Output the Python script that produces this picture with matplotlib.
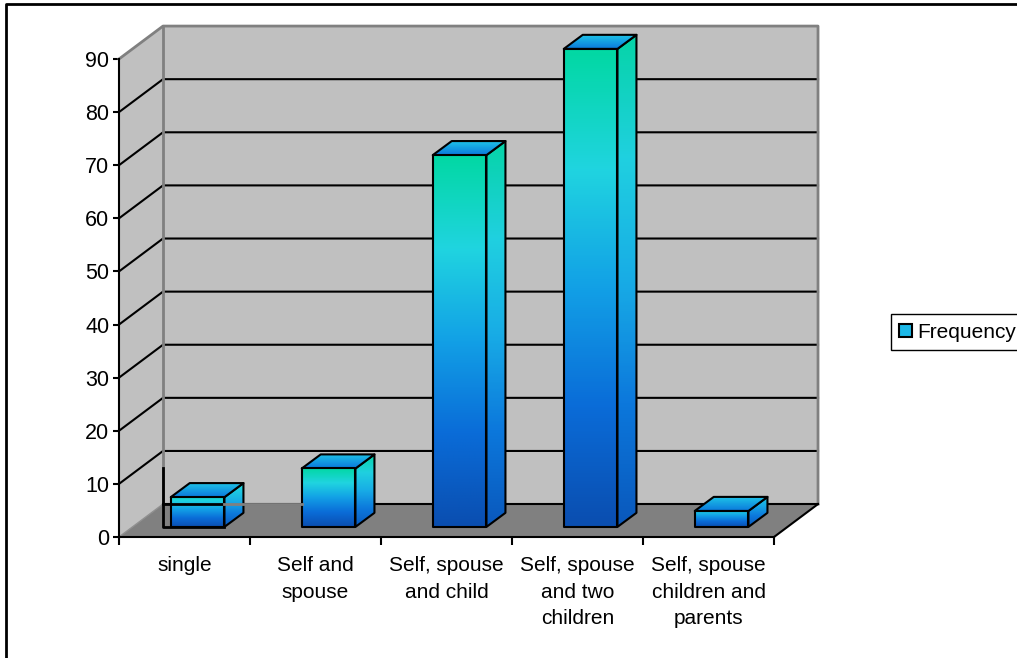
import numpy as np
from matplotlib import pyplot as plt
from matplotlib.colors import LinearSegmentedColormap
from matplotlib.lines import Line2D
from matplotlib.patches import Polygon, Patch

plt.rcParams['font.family'] = ['Liberation Sans', 'DejaVu Sans']

# data
categories = ['single', 'Self and\nspouse', 'Self, spouse\nand child',
              'Self, spouse\nand two\nchildren', 'Self, spouse\nchildren and\nparents']
frequency = [5.6, 11, 70, 90, 3]
y_ticks = [0, 10, 20, 30, 40, 50, 60, 70, 80, 90]

# how far up the colour ramp each bar goes, short bars stop before the green
ramp_top = [0.85, 1, 1, 1, 0.7]

# depth of the fake 3d box, in data units
DX, DY = 0.336, 6.2
BAR_DX, BAR_DY = 0.145, 2.65
BAR_SHIFT_X, BAR_SHIFT_Y = 0.1, 1.9
BAR_W = 0.41

front_cmap = LinearSegmentedColormap.from_list('front', ['#0A4EB0', '#0A6CD8', '#12A0E6', '#20D4E0', '#02D8A4'])
side_cmap = LinearSegmentedColormap.from_list('side', ['#0A58BC', '#0C78DC', '#18ACE6', '#20D0E0', '#06D4A8'])
top_cmap = LinearSegmentedColormap.from_list('top', ['#0A78DC', '#20C8E8'])

fig = plt.figure(figsize=(10.17, 6.58), dpi=100)
ax = fig.add_axes([119/1017, 121/658, 655/1017, 478/658])
ax.set_xlim(0, 5)
ax.set_ylim(0, 90)
n = len(categories)

# walls and floor
side = Polygon([(0, 0), (DX, DY), (DX, 90+DY), (0, 90)], fc='#C0C0C0', ec='none', clip_on=False, zorder=1)
back = Polygon([(DX, DY), (n+DX, DY), (n+DX, 90+DY), (DX, 90+DY)], fc='#C0C0C0', ec='none', clip_on=False, zorder=1)
floor = Polygon([(0, 0), (n, 0), (n+DX, DY), (DX, DY)], fc='#808080', ec='none', clip_on=False, zorder=1)
ax.add_patch(side)
ax.add_patch(back)
ax.add_patch(floor)

for v in y_ticks[1:-1]:
    ax.plot([0, DX, n+DX], [v, v+DY, v+DY], color='black', lw=1.5, clip_on=False, zorder=2)
# wall outline
ax.plot([0, DX, n+DX, n+DX], [90, 90+DY, 90+DY, DY], color='#808080', lw=2, clip_on=False, zorder=2)
ax.plot([DX, DX], [DY, 90+DY], color='#808080', lw=2, clip_on=False, zorder=2)
ax.plot([0, DX], [0, DY], color='#909090', lw=1, clip_on=False, zorder=2)
ax.plot([DX, n+DX], [DY, DY], color='black', lw=1.5, clip_on=False, zorder=2)
ax.plot([n, n+DX], [0, DY], color='black', lw=1.5, clip_on=False, zorder=2)


def face(pts, cmap, z, hi=1):
    # gradient image clipped to one face of a bar
    pts = np.array(pts)
    grad = np.linspace(hi, 0, 128).reshape(-1, 1)
    im = ax.imshow(grad, cmap=cmap, vmin=0, vmax=1, aspect='auto', zorder=z, interpolation='bilinear',
                   extent=[pts[:, 0].min(), pts[:, 0].max(), pts[:, 1].min(), pts[:, 1].max()])
    im.set_clip_path(Polygon(pts, transform=ax.transData))
    im.set_clip_box(fig.bbox)
    ax.add_patch(Polygon(pts, fc='none', ec='black', lw=1.5, joinstyle='round', clip_on=False, zorder=z+0.5))


for i, val in enumerate(frequency):
    x0 = i + 0.5 + BAR_SHIFT_X - BAR_W/2
    x1 = x0 + BAR_W
    y0 = BAR_SHIFT_Y
    y1 = y0 + val
    face([(x1, y0), (x1+BAR_DX, y0+BAR_DY), (x1+BAR_DX, y1+BAR_DY), (x1, y1)], side_cmap, 3, ramp_top[i])
    face([(x0, y1), (x1, y1), (x1+BAR_DX, y1+BAR_DY), (x0+BAR_DX, y1+BAR_DY)], top_cmap, 4)
    face([(x0, y0), (x1, y0), (x1, y1), (x0, y1)], front_cmap, 5, ramp_top[i])

# black corner and floor edge that show through the first bar, gray edge up to the second
first_right = 0.5 + BAR_SHIFT_X + BAR_W/2
second_left = 1.5 + BAR_SHIFT_X - BAR_W/2
ax.plot([DX, DX, first_right], [13, BAR_SHIFT_Y, BAR_SHIFT_Y], color='black', lw=2, clip_on=False, zorder=6)
ax.plot([DX, first_right], [DY, DY], color='black', lw=2, clip_on=False, zorder=6)
ax.plot([first_right, second_left], [DY, DY], color='#808080', lw=2, clip_on=False, zorder=6)

ax.set_xlim(0, 5)
ax.set_ylim(0, 90)

# axes
for s in ['top', 'right']:
    ax.spines[s].set_visible(False)
for s in ['left', 'bottom']:
    ax.spines[s].set_linewidth(1.5)
    ax.spines[s].set_zorder(7)
ax.patch.set_visible(False)
ax.set_yticks(y_ticks)
ax.set_xticks(range(n+1))
ax.set_xticklabels([])
ax.set_xticks(np.arange(n)+0.5, minor=True)
ax.set_xticklabels(categories, minor=True, fontsize=15, linespacing=1.5, va='top')
ax.tick_params(axis='x', which='minor', length=0, pad=14)
ax.tick_params(axis='x', which='major', length=6, width=1.5, direction='out')
ax.tick_params(axis='y', length=4, width=1.5, labelsize=15.5, pad=3)

# legend
fig.legend(handles=[Patch(fc='#1CB8E8', ec='black', lw=1.5)], labels=['Frequency'],
           loc='center left', bbox_to_anchor=(891/1017, 1-332/658), bbox_transform=fig.transFigure,
           fontsize=15, frameon=True, fancybox=False, edgecolor='black', framealpha=1,
           handlelength=0.6, handleheight=0.6, handletextpad=0.25, borderpad=0.4, borderaxespad=0)

# outer frame, only top and left are drawn
fig.add_artist(Line2D([6/1017, 6/1017, 1], [0, 1-4/658, 1-4/658], transform=fig.transFigure, color='black', lw=2))

fig.savefig('out.png', dpi=100)
